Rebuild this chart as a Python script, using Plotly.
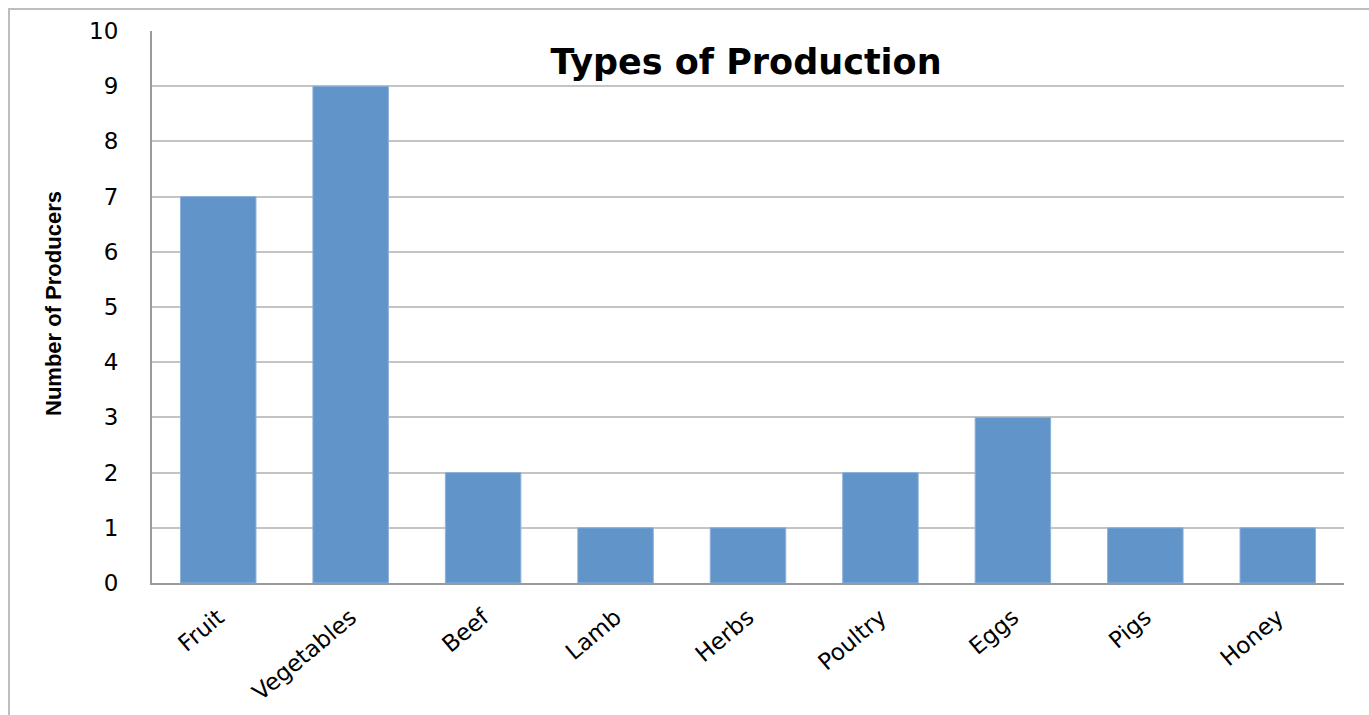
import plotly.graph_objects as go

categories = ["Fruit", "Vegetables", "Beef", "Lamb", "Herbs", "Poultry", "Eggs", "Pigs", "Honey"]
producers = [7, 9, 2, 1, 1, 2, 3, 1, 1]
y_ticks = list(range(0, 11))

W, H = 1369, 715
L, R, T, B = 152, 25, 31, 132
plot_w = W - L - R
plot_h = H - T - B


def px_to_paper_x(px):
    return (px - L) / plot_w


def px_to_paper_y(py):
    return (H - B - py) / plot_h


fig = go.Figure(
    go.Bar(
        x=categories,
        y=producers,
        marker=dict(color="#6194C8", line=dict(color="#8DB1DA", width=1)),
        width=0.57,
    )
)

fig.update_layout(
    width=W,
    height=H,
    margin=dict(l=L, r=R, t=T, b=B, pad=0, autoexpand=False),
    paper_bgcolor="white",
    plot_bgcolor="white",
    showlegend=False,
    title=dict(
        text="<b>Types of Production</b>",
        font=dict(family="DejaVu Sans", size=35, color="black"),
        xref="container",
        yref="container",
        x=746 / W,
        y=1 - 62 / H,
        xanchor="center",
        yanchor="middle",
    ),
    font=dict(family="DejaVu Sans", color="black"),
)

fig.update_xaxes(
    tickangle=-40,
    tickfont=dict(family="DejaVu Sans", size=23, color="black"),
    showline=True,
    linecolor="#9A9A9A",
    linewidth=2,
    showgrid=False,
    ticks="",
    ticklabelstandoff=10,
)

fig.update_yaxes(
    range=[0, 10],
    tickvals=y_ticks,
    tickfont=dict(family="DejaVu Sans", size=23, color="black"),
    showline=True,
    linecolor="#9A9A9A",
    linewidth=2,
    showgrid=True,
    gridcolor="#C4C4C4",
    gridwidth=1.5,
    ticks="",
    ticklabelstandoff=27,
    zeroline=False,
)

fig.add_annotation(
    text="<b>Number of Producers</b>",
    textangle=-90,
    xref="paper",
    yref="paper",
    x=px_to_paper_x(53),
    y=px_to_paper_y(304),
    xanchor="center",
    yanchor="middle",
    showarrow=False,
    font=dict(family="Liberation Sans Narrow, Liberation Sans", size=22, color="black"),
)

# outer chart frame (top and left edges visible)
fig.add_shape(
    type="line", xref="paper", yref="paper",
    x0=px_to_paper_x(8), x1=px_to_paper_x(1372),
    y0=px_to_paper_y(9), y1=px_to_paper_y(9),
    line=dict(color="#BDBDBD", width=2),
)
fig.add_shape(
    type="line", xref="paper", yref="paper",
    x0=px_to_paper_x(9), x1=px_to_paper_x(9),
    y0=px_to_paper_y(9), y1=px_to_paper_y(720),
    line=dict(color="#BDBDBD", width=2),
)

fig.write_html("out.html")
